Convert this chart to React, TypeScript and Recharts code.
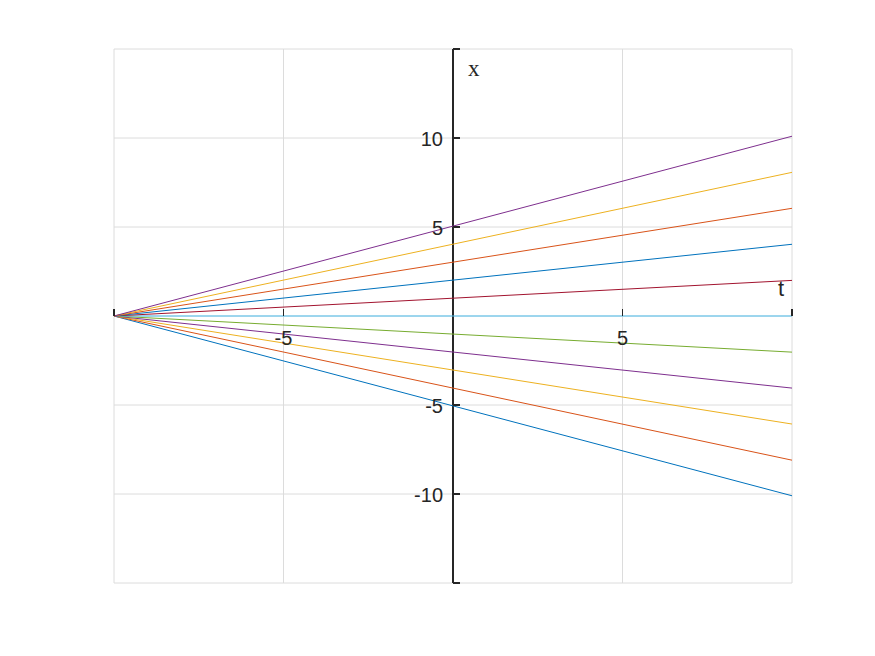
import React from 'react';
import { LineChart, Line, XAxis, YAxis, CartesianGrid, ReferenceLine, ReferenceDot } from 'recharts';

// time values (start and end of each line)
const tValues = [-10, 10];
// x value of every line at t = -10
const startValues = [0, 0, 0, 0, 0, 0, 0, 0, 0, 0, 0];
// x value of every line at t = 10
const endValues = [-10.1, -8.1, -6.07, -4.05, -2.03, 0, 2.0, 4.03, 6.05, 8.07, 10.1];
const lineColors = [
  '#0072BD', '#D95319', '#EDB120', '#7E2F8E', '#77AC30', '#4DBEEE',
  '#A2142F', '#0072BD', '#D95319', '#EDB120', '#7E2F8E',
];

const xGridTicks = [-10, -5, 0, 5, 10];
const yGridTicks = [-15, -10, -5, 0, 5, 10, 15];
const xTickMarks = [-10, -5, 5, 10];
const yTickMarks = [-15, -10, -5, 5, 10, 15];
const xTickLabels = [-5, 5];
const yTickLabels = [-10, -5, 5, 10];

const data = tValues.map((t, i) => {
  const row: Record<string, number> = { t };
  endValues.forEach((_, k) => {
    row['s' + k] = i === 0 ? startValues[k] : endValues[k];
  });
  return row;
});

const AXIS = '#262626';
const SANS = '"Liberation Sans", Arial, Helvetica, sans-serif';
const SERIF = '"Liberation Serif", "Times New Roman", serif';

export default function App() {
  return (
    <div style={{ position: 'absolute', left: 0, top: 0, width: 875, height: 656, background: '#fff' }}>
      <LineChart
        width={875}
        height={656}
        data={data}
        margin={{ top: 49, right: 83, bottom: 73, left: 114 }}
      >
        <XAxis dataKey="t" type="number" domain={[-10, 10]} ticks={xGridTicks} hide />
        <YAxis type="number" domain={[-15, 15]} ticks={yGridTicks} hide />
        <CartesianGrid stroke="#dcdcdc" strokeWidth={1} />
        <ReferenceLine x={0} stroke={AXIS} strokeWidth={1.2} shapeRendering="crispEdges" />
        {xTickMarks.map((v) => (
          <ReferenceDot
            key={'xt' + v}
            x={v}
            y={0}
            r={0}
            shape={(p: any) => (
              <line x1={p.cx} y1={p.cy} x2={p.cx} y2={p.cy - 7} stroke={AXIS} strokeWidth={1.2} shapeRendering="crispEdges" />
            )}
          />
        ))}
        {yTickMarks.map((v) => (
          <ReferenceDot
            key={'yt' + v}
            x={0}
            y={v}
            r={0}
            shape={(p: any) => (
              <line x1={p.cx} y1={p.cy} x2={p.cx + 7} y2={p.cy} stroke={AXIS} strokeWidth={1.2} shapeRendering="crispEdges" />
            )}
          />
        ))}
        {endValues.map((_, k) => (
          <Line
            key={'s' + k}
            type="linear"
            dataKey={'s' + k}
            stroke={lineColors[k]}
            strokeWidth={1}
            dot={false}
            activeDot={false}
            isAnimationActive={false}
          />
        ))}
        {xTickLabels.map((v) => (
          <ReferenceDot
            key={'xl' + v}
            x={v}
            y={0}
            r={0}
            shape={(p: any) => (
              <text x={p.cx} y={p.cy + 29} textAnchor="middle" fontSize={20} fontFamily={SANS} fill={AXIS}>
                {String(v)}
              </text>
            )}
          />
        ))}
        {yTickLabels.map((v) => (
          <ReferenceDot
            key={'yl' + v}
            x={0}
            y={v}
            r={0}
            shape={(p: any) => (
              <text x={p.cx - 10} y={p.cy + 8} textAnchor="end" fontSize={20} fontFamily={SANS} fill={AXIS}>
                {String(v)}
              </text>
            )}
          />
        ))}
        <ReferenceDot
          x={0}
          y={15}
          r={0}
          shape={(p: any) => (
            <text x={p.cx + 15} y={p.cy + 27} fontSize={23} fontFamily={SERIF} fill={AXIS}>
              x
            </text>
          )}
        />
        <ReferenceDot
          x={10}
          y={0}
          r={0}
          shape={(p: any) => (
            <text x={p.cx - 11} y={p.cy - 20} textAnchor="middle" fontSize={22} fontFamily={SANS} fill={AXIS}>
              t
            </text>
          )}
        />
      </LineChart>
    </div>
  );
}
